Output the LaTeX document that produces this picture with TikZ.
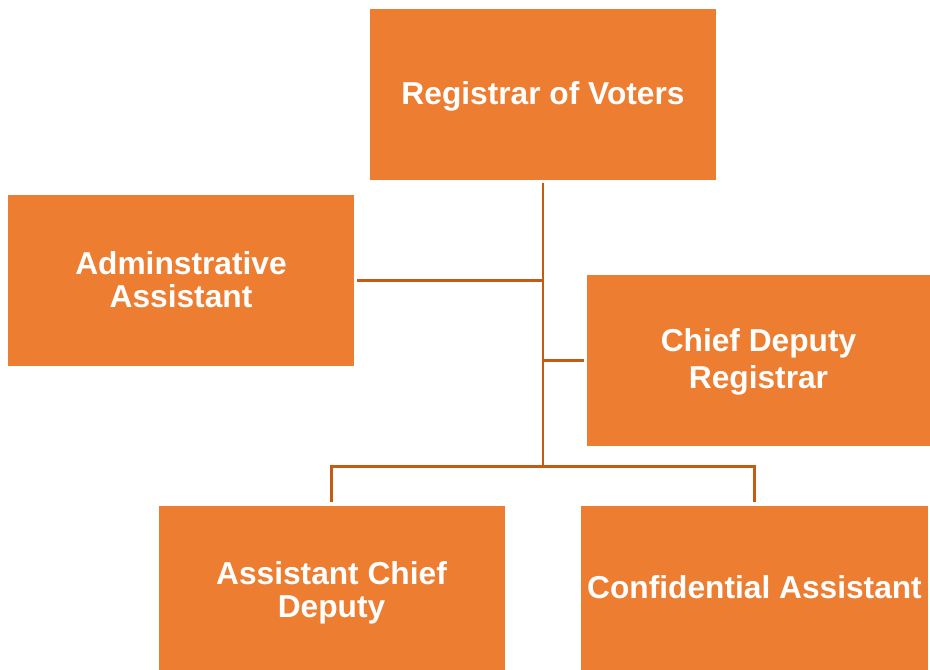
\documentclass[tikz,border=0pt]{standalone}
\usepackage{fontspec}
\setmainfont{Liberation Sans}
\definecolor{boxorange}{HTML}{ED7D31}
\definecolor{linebrown}{HTML}{C55A11}
\begin{document}
\begin{tikzpicture}[x=1pt,y=-1pt,
  orgbox/.style={rectangle, fill=boxorange, draw=none, inner sep=0pt},
  orgtext/.style={inner sep=0pt, align=center, text=white,
    font=\fontsize{31.7}{33}\selectfont\bfseries},
  conn/.style={draw=linebrown, line width=2.6pt}]
\useasboundingbox (0,0) rectangle (930,670);
\node[orgbox, minimum width=346pt, minimum height=171pt,
  label={[orgtext, yshift=-1.6pt]center:Registrar of Voters}] (top) at (543,94.5) {};
\node[orgbox, minimum width=346pt, minimum height=171pt,
  label={[orgtext, yshift=1pt]center:Adminstrative\\Assistant}] (admin) at (181,280.5) {};
\node[orgbox, minimum width=343pt, minimum height=171pt,
  label={[orgtext, yshift=-1.3pt]center:Chief Deputy\\[3.6pt]Registrar}] (chief) at (758.5,360.5) {};
\node[orgbox, minimum width=346pt, minimum height=164pt,
  label={[orgtext, yshift=-5pt]center:Assistant Chief\\Deputy}] (acd) at (331.5,588) {};
\node[orgbox, minimum width=347pt, minimum height=164pt,
  label={[orgtext, yshift=1.2pt]center:Confidential Assistant}] (conf) at (754.5,588) {};
\coordinate (bus) at (543,466.5);
\draw[conn, shorten <=3pt] (top.south) -- (bus);
\draw[conn, shorten <=3pt] (admin.east) -- (admin.east -| top.south);
\draw[conn, shorten <=3pt] (chief.west) -- (chief.west -| top.south);
\draw[conn, shorten >=3.5pt] (bus) -| (acd.north);
\draw[conn, shorten >=3.5pt] (bus) -| (conf.north);
\end{tikzpicture}
\end{document}
